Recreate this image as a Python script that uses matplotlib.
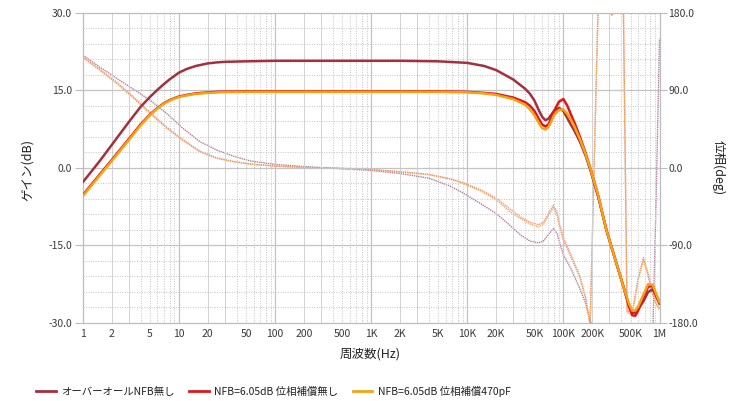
import matplotlib
matplotlib.use("Agg")
import matplotlib.pyplot as plt
import numpy as np
from matplotlib.lines import Line2D

plt.rcParams['font.family'] = ['Noto Sans CJK JP', 'DejaVu Sans']

# ---- data -------------------------------------------------------------
gain_freq = [1, 1.5, 2, 3, 4, 5, 6, 7, 8, 10,
             12, 15, 20, 25, 30, 50, 100, 200, 500, 1e3,
             2e3, 5e3, 1e4, 1.5e4, 2e4, 3e4, 4e4, 4.5e4, 5e4, 5.5e4,
             6e4, 6.5e4, 7e4, 7.5e4, 8e4, 9e4, 1e5, 1.1e5, 1.2e5, 1.3e5,
             1.5e5, 1.7e5, 1.9e5, 2.3e5, 2.8e5, 3.5e5, 4.3e5, 4.8e5, 5.2e5,
             5.6e5, 6e5, 6.8e5, 7.6e5, 8.5e5, 9.2e5, 1e6]

gain_open = [-2.8, 1.3, 4.4, 8.8, 11.8, 13.7, 15.1, 16.2, 17.1, 18.4,
             19.1, 19.7, 20.2, 20.4, 20.5, 20.6, 20.7, 20.7, 20.7, 20.7,
             20.7, 20.6, 20.3, 19.7, 18.9, 17.1, 15.3, 14.3, 13.0, 11.3,
             9.9, 9.2, 9.5, 10.3, 11.0, 11.6, 11.0, 9.6, 8.3, 7.2,
             4.9, 2.4, -0.3, -5.6, -12.0, -18.0, -23.5, -26.5, -28.0,
             -28.0, -27.3, -25.8, -24.0, -23.5, -24.6, -26.0]

gain_nfb = [-5.3, -1.3, 1.5, 5.5, 8.4, 10.3, 11.6, 12.5, 13.1, 13.8,
            14.1, 14.4, 14.6, 14.7, 14.75, 14.8, 14.8, 14.8, 14.8, 14.8,
            14.8, 14.8, 14.7, 14.5, 14.3, 13.6, 12.7, 12.0, 11.0, 9.6,
            8.4, 8.0, 8.4, 9.6, 11.0, 12.8, 13.3, 12.0, 10.3, 8.8,
            5.8, 2.9, 0.0, -5.3, -12.0, -18.0, -23.5, -26.8, -28.5,
            -28.6, -27.6, -25.0, -23.0, -22.8, -24.8, -26.3]

gain_comp = [-5.5, -1.5, 1.3, 5.3, 8.2, 10.2, 11.5, 12.4, 13.0, 13.7,
             14.0, 14.3, 14.5, 14.6, 14.65, 14.7, 14.7, 14.7, 14.7, 14.7,
             14.7, 14.7, 14.6, 14.4, 14.1, 13.3, 12.2, 11.3, 10.2, 8.8,
             7.7, 7.4, 7.9, 9.0, 10.2, 11.2, 11.3, 10.4, 9.3, 8.0,
             5.4, 2.7, 0.0, -5.3, -12.0, -18.0, -23.5, -26.2, -27.6,
             -27.6, -26.8, -24.5, -22.5, -22.6, -24.3, -26.0]

phase_freq = [1, 1.5, 2.25, 3.4, 5, 7.5, 11, 16.5, 25, 37,
              55, 100, 200, 500, 1e3, 2e3, 4e3, 6.6e3, 9e3, 1.4e4,
              2e4, 2.8e4, 3.6e4, 4.5e4, 5.5e4, 6.2e4, 7e4, 7.9e4, 8.6e4,
              9.2e4, 1e5, 1.2e5, 1.48e5, 1.7e5, 1.9e5, 2.3e5, 2.7e5, 3.2e5,
              3.7e5, 4.2e5, 4.6e5, 5.2e5, 6e5, 6.8e5, 7.6e5, 8.5e5, 9.2e5,
              1e6]

phase_open = [131, 117, 104, 91, 78.6, 63, 46, 30.5, 20.5, 13.6,
              8.1, 4, 1.5, -1, -3, -6.5, -12, -21, -29, -42,
              -53, -67, -78, -85, -87, -85, -77, -70.5, -76, -88,
              -101, -117, -140, -157, -177, -200, -210, -220, -230, -235,
              -235, -230, -225, -220, -215, -196, -40, 150]

phase_nfb = [129, 114.5, 99.5, 82, 64.5, 47, 33, 19.5, 11.5, 7.5,
             4.6, 2, 0.5, -0.5, -2, -4.4, -7.5, -12.5, -17, -26,
             -35, -48, -57, -63, -66, -63, -53, -43, -52, -67,
             -81, -101, -125, -150, -182, 190, 186, 178, 186, 195,
             -166, -168, -128, -104, -122, -146, -157, -163]

phase_comp = [128, 113.5, 98, 80.6, 63.2, 45.8, 32, 18.6, 10.9, 7,
              4.3, 2, 0.5, -0.7, -2, -4.6, -8, -13, -18, -27,
              -37, -51, -59, -65, -68.5, -65, -55, -46, -55, -70,
              -84, -104, -127, -151, -182, 190, 185, 177, 185, 195,
              -168, -170, -130, -107, -125, -148, -158, -165]

x_ticks = [1, 2, 5, 10, 20, 50, 100, 200, 500, 1e3, 2e3, 5e3, 1e4, 2e4,
           5e4, 1e5, 2e5, 5e5, 1e6]
x_tick_labels = ['1', '2', '5', '10', '20', '50', '100', '200', '500', '1K',
                 '2K', '5K', '10K', '20K', '50K', '100K', '200K', '500K', '1M']
gain_ticks = [-30, -15, 0, 15, 30]
gain_tick_labels = ['-30.0', '-15.0', '0.0', '15.0', '30.0']
phase_ticks = [-180, -90, 0, 90, 180]
phase_tick_labels = ['-180.0', '-90.0', '0.0', '90.0', '180.0']

series_names = ['オーバーオールNFB無し', 'NFB=6.05dB 位相補償無し',
                'NFB=6.05dB 位相補償470pF']

# ---- styling ----------------------------------------------------------
c_open = '#a3303e'
c_nfb = '#e3141a'
c_comp = '#f5a312'
ph_open = '#a8708e'
ph_nfb = '#ee8a88'
ph_comp = '#f2a24a'
grid_major = '#c4c4c4'
grid_minor = '#d2d2d2'
txt = '#3a3a3a'

fig = plt.figure(figsize=(7.35, 4.01), dpi=100)
ax = fig.add_axes([0.1125, 0.1945, 0.7848, 0.7738])
ax.set_xscale('log')
ax.set_xlim(1, 1e6)
ax.set_ylim(-30, 30)

# grid
for dec in range(0, 6):
    base = 10 ** dec
    for m in range(2, 10):
        if m in (2, 3):
            ax.axvline(base * m, color=grid_minor, lw=0.7, zorder=0)
        else:
            ax.axvline(base * m, color=grid_major, lw=0.7,
                       ls=(0, (1, 1.5)), zorder=0)
for dec in range(1, 6):
    ax.axvline(10 ** dec, color=grid_major, lw=0.9, zorder=0)
for g in range(-27, 30, 3):
    if g % 15 == 0:
        ax.axhline(g, color=grid_major, lw=0.9, zorder=0)
    else:
        ax.axhline(g, color=grid_major, lw=0.7, ls=(0, (1, 1.5)), zorder=0)

for s in ax.spines.values():
    s.set_color('#bdbdbd')
    s.set_linewidth(0.9)

ax.set_xticks(x_ticks)
ax.set_xticklabels(x_tick_labels)
ax.xaxis.set_minor_locator(matplotlib.ticker.NullLocator())
ax.set_yticks(gain_ticks)
ax.set_yticklabels(gain_tick_labels)
ax.tick_params(axis='x', length=0, pad=4.5, labelsize=7.5, colors=txt)
ax.tick_params(axis='y', length=6, width=0.8, color='#bdbdbd', pad=1.5,
               labelsize=7.5, labelcolor=txt)

axp = ax.twinx()
axp.set_ylim(-180, 180)
axp.set_yticks(phase_ticks)
axp.set_yticklabels(phase_tick_labels)
axp.tick_params(axis='y', length=5, width=0.8, color='#bdbdbd', pad=1.5,
                labelsize=7.5, labelcolor=txt)
for s in axp.spines.values():
    s.set_visible(False)

# phase curves (thin, dotted)
dot = (0, (1, 0.6))
axp.plot(phase_freq, phase_open, color=ph_open, lw=1.0, ls=dot, alpha=0.9)
axp.plot(phase_freq, phase_nfb, color=ph_nfb, lw=1.0, ls=dot, alpha=0.9)
axp.plot(phase_freq, phase_comp, color=ph_comp, lw=1.0, ls=dot, alpha=0.9)

# gain curves (thick), drawn on the gain axis
for vals, col in ((gain_open, c_open), (gain_nfb, c_nfb),
                  (gain_comp, c_comp)):
    ax.plot(gain_freq, vals, color=col, lw=1.8, solid_capstyle='round',
            zorder=5)
ax.set_zorder(axp.get_zorder() + 1)
ax.patch.set_visible(False)

fig.text(370 / 735, 1 - 354 / 401, '周波数(Hz)', ha='center', va='center',
         fontsize=9, color='#222222')
fig.text(27 / 735, 1 - 170 / 401, 'ゲイン(dB)', ha='center', va='center',
         rotation=90, fontsize=9, color='#222222')
fig.text(718 / 735, 1 - 168 / 401, '位相(deg)', ha='center', va='center',
         rotation=270, fontsize=9, color='#222222')

handles = [Line2D([], [], color=c, lw=2) for c in (c_open, c_nfb, c_comp)]
fig.legend(handles, series_names, loc='center left',
           bbox_to_anchor=(36 / 735, 1 - 391 / 401), ncol=3, frameon=False,
           fontsize=7.5, handlelength=1.9, handletextpad=0.5,
           columnspacing=1.4, borderpad=0, borderaxespad=0,
           labelcolor='#222222')

fig.savefig('out.png', dpi=100)
